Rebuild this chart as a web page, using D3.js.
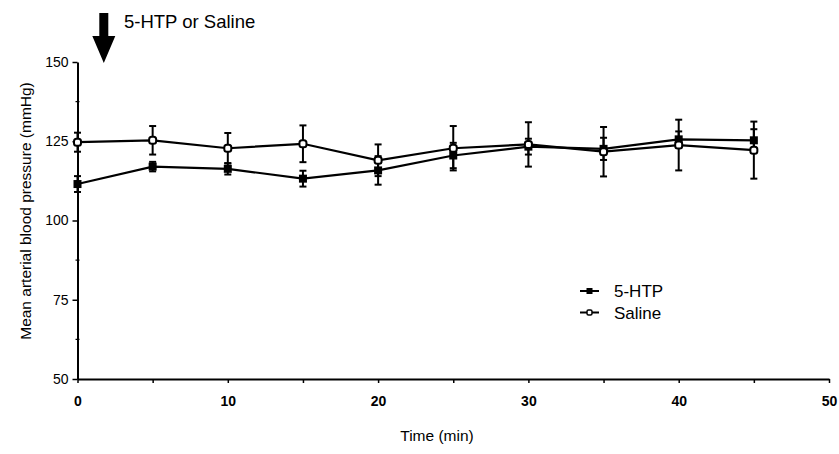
<!DOCTYPE html>
<html>
<head>
<meta charset="utf-8">
<script src="https://cdn.jsdelivr.net/npm/d3@7"></script>
<style>
  body { margin: 0; background: #fff; }
  svg { display: block; font-family: Arial, "Liberation Sans", Helvetica, sans-serif; }
</style>
</head>
<body>
<div id="chart"></div>
<script>
// data
var times = [0, 5, 10, 15, 20, 25, 30, 35, 40, 45];
var htpMean = [111.5, 117, 116.3, 113.2, 115.8, 120.5, 123.3, 122.6, 125.6, 125.3];
var htpErr = [2.5, 1.5, 1.8, 2.5, 4.5, 4, 2.5, 3.5, 2.5, 3.5];
var salMean = [124.7, 125.3, 122.8, 124.2, 119, 122.8, 124, 121.7, 123.8, 122.2];
var salErr = [3, 4.5, 4.8, 5.8, 5, 7, 7, 7.8, 8, 9];
var xTicks = [0, 10, 20, 30, 40, 50];
var yTicks = [50, 75, 100, 125, 150];
var seriesNames = ["5-HTP", "Saline"];

var W = 839, H = 454;
var margin = {top: 62, right: 10, bottom: 75, left: 77.5};

var svg = d3.select("#chart")
  .append("svg")
    .attr("width", W)
    .attr("height", H);

var x = d3.scaleLinear()
  .domain([0, 50])
  .range([margin.left, 829]);

var y = d3.scaleLinear()
  .domain([50, 150])
  .range([379, margin.top]);

// X axis
var xAxis = svg.append("g")
  .attr("transform", "translate(0," + y(50) + ")")
  .call(d3.axisBottom(x).tickValues(d3.range(0, 51, 5)).tickSize(4).tickSizeOuter(0)
    .tickFormat(function(d) { return xTicks.indexOf(d) >= 0 ? d : ""; }));
xAxis.select(".domain").attr("stroke-width", 2);
xAxis.selectAll(".tick line").attr("stroke-width", 1.5);
xAxis.selectAll(".tick text")
  .attr("dy", "1.4em")
  .style("font-size", "14px")
  .style("font-weight", "bold")
  .attr("fill", "#000");

// Y axis
var yAxis = svg.append("g")
  .attr("transform", "translate(" + x(0) + ",0)")
  .call(d3.axisLeft(y).tickValues(yTicks).tickSize(5).tickSizeOuter(0));
yAxis.select(".domain").attr("stroke-width", 2);
yAxis.selectAll(".tick line").attr("stroke-width", 1.5);
yAxis.selectAll(".tick text")
  .attr("x", -9)
  .style("font-size", "14px")
  .attr("fill", "#000");

// minor y ticks
svg.append("g")
  .selectAll("line")
  .data([62.5, 87.5, 112.5, 137.5])
  .enter()
  .append("line")
    .attr("x1", x(0) - 2)
    .attr("x2", x(0) + 2)
    .attr("y1", function(d) { return y(d); })
    .attr("y2", function(d) { return y(d); })
    .attr("stroke", "#000")
    .attr("stroke-width", 1.2);

// axis titles
svg.append("text")
  .attr("x", 437)
  .attr("y", 441)
  .attr("text-anchor", "middle")
  .style("font-size", "15.5px")
  .text("Time (min)");

svg.append("text")
  .attr("transform", "translate(31,211) rotate(-90)")
  .attr("text-anchor", "middle")
  .style("font-size", "15.5px")
  .text("Mean arterial blood pressure (mmHg)");

// arrow + label
var ax = x(1.75);
svg.append("path")
  .attr("d", "M" + (ax - 4.5) + ",13 L" + (ax + 4.5) + ",13 L" + (ax + 4.5) + ",36 L" + (ax + 11.5) + ",36 L" + ax + "," + (y(150) + 1) +
    " L" + (ax - 11.5) + ",36 L" + (ax - 4.5) + ",36 Z")
  .attr("fill", "#000");

svg.append("text")
  .attr("x", 124)
  .attr("y", 28)
  .style("font-size", "18.5px")
  .text("5-HTP or Saline");

// series
var htp = times.map(function(t, i) { return {t: t, m: htpMean[i], e: htpErr[i]}; });
var sal = times.map(function(t, i) { return {t: t, m: salMean[i], e: salErr[i]}; });

var line = d3.line()
  .x(function(d) { return x(d.t); })
  .y(function(d) { return y(d.m); });

function errorBars(data) {
  var g = svg.append("g").attr("stroke", "#000").attr("stroke-width", 2);
  g.selectAll(".v").data(data).enter().append("line")
    .attr("x1", function(d) { return x(d.t); })
    .attr("x2", function(d) { return x(d.t); })
    .attr("y1", function(d) { return y(d.m + d.e); })
    .attr("y2", function(d) { return y(d.m - d.e); });
  [1, -1].forEach(function(s) {
    g.selectAll(".c" + s).data(data).enter().append("line")
      .attr("x1", function(d) { return x(d.t) - 3.5; })
      .attr("x2", function(d) { return x(d.t) + 3.5; })
      .attr("y1", function(d) { return y(d.m + s * d.e); })
      .attr("y2", function(d) { return y(d.m + s * d.e); });
  });
}

errorBars(sal);
errorBars(htp);

svg.append("path")
  .datum(sal)
  .attr("d", line)
  .attr("fill", "none")
  .attr("stroke", "#000")
  .attr("stroke-width", 2.2);

svg.append("path")
  .datum(htp)
  .attr("d", line)
  .attr("fill", "none")
  .attr("stroke", "#000")
  .attr("stroke-width", 2.2);

svg.selectAll(".htp")
  .data(htp)
  .enter()
  .append("rect")
    .attr("x", function(d) { return x(d.t) - 4; })
    .attr("y", function(d) { return y(d.m) - 4; })
    .attr("width", 8)
    .attr("height", 8)
    .attr("fill", "#000");

svg.selectAll(".sal")
  .data(sal)
  .enter()
  .append("rect")
    .attr("x", function(d) { return x(d.t) - 3.5; })
    .attr("y", function(d) { return y(d.m) - 3.5; })
    .attr("width", 7)
    .attr("height", 7)
    .attr("rx", 2.5)
    .attr("fill", "#fff")
    .attr("stroke", "#000")
    .attr("stroke-width", 2);

// legend
var legend = svg.append("g").attr("transform", "translate(580,291)");
seriesNames.forEach(function(name, i) {
  var ly = i * 21.5;
  legend.append("line")
    .attr("x1", 0).attr("x2", 19)
    .attr("y1", ly).attr("y2", ly)
    .attr("stroke", "#000").attr("stroke-width", 2);
  if (i === 0) {
    legend.append("rect")
      .attr("x", 6.5).attr("y", ly - 3).attr("width", 6).attr("height", 6)
      .attr("fill", "#000");
  } else {
    legend.append("rect")
      .attr("x", 7).attr("y", ly - 2.5).attr("width", 5).attr("height", 5)
      .attr("rx", 1.5)
      .attr("fill", "#fff").attr("stroke", "#000").attr("stroke-width", 1.5);
  }
  legend.append("text")
    .attr("x", 34)
    .attr("y", ly + 6)
    .style("font-size", "17px")
    .text(name);
});
</script>
</body>
</html>
